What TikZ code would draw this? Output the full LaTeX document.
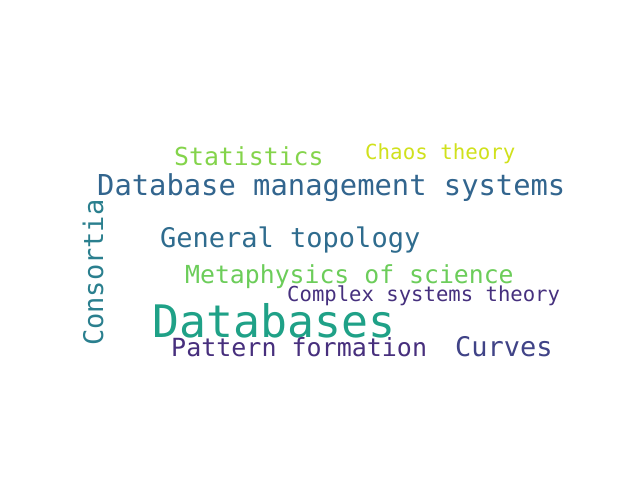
\documentclass[tikz,border=0pt]{standalone}
\usepackage{fontspec}
\usepackage{xcolor}
\usepackage{tikz}
\newfontfamily\cloudfont{DejaVu Sans Mono}
\definecolor{bg}{HTML}{FFFFFF}
\definecolor{vyellow}{HTML}{D0E11C}
\definecolor{vlime}{HTML}{84D44B}
\definecolor{vgreen}{HTML}{6CCD5A}
\definecolor{vteal}{HTML}{1FA187}
\definecolor{vcyan}{HTML}{2A7F8E}
\definecolor{vblue}{HTML}{2F6C8E}
\definecolor{vnavy}{HTML}{32658E}
\definecolor{vindigo}{HTML}{404387}
\definecolor{vpurple}{HTML}{46307E}
\definecolor{vplum}{HTML}{472F7D}
\newcommand{\wsize}[1]{\cloudfont\fontsize{#1}{#1}\selectfont}
\tikzset{
  word/.style={inner sep=0pt, anchor=base west},
}

\begin{document}
\begin{tikzpicture}[x=1pt, y=-1pt]
  \useasboundingbox[fill=bg] (0,0) rectangle (640,480);
  \node[word, text=vlime, font=\wsize{24.8}] (stat) at (174,165) {Statistics};
  \node[word, text=vyellow, font=\wsize{20.8}] (chaos) at (365,159) {Chaos theory};
  \node[word, text=vnavy, font=\wsize{28.8}] (dbms) at (97,195) {Database management systems};
  \node[word, text=vcyan, font=\wsize{27}, rotate=90] (cons) at (103,346) {Consortia};
  \node[word, text=vblue, font=\wsize{27}] (topo) at (160,247) {General topology};
  \node[word, text=vgreen, font=\wsize{24.8}] (meta) at (185,283) {Metaphysics of science};
  \node[word, text=vpurple, font=\wsize{20.6}] (cst) at (287,301) {Complex systems theory};
  \node[word, text=vteal, font=\wsize{44.8}] (db) at (152.5,337) {Databases};
  \node[word, text=vplum, font=\wsize{25}] (pat) at (171,356) {Pattern formation};
  \node[word, text=vindigo, font=\wsize{27}] (curv) at (455,356) {Curves};
\end{tikzpicture}
\end{document}
